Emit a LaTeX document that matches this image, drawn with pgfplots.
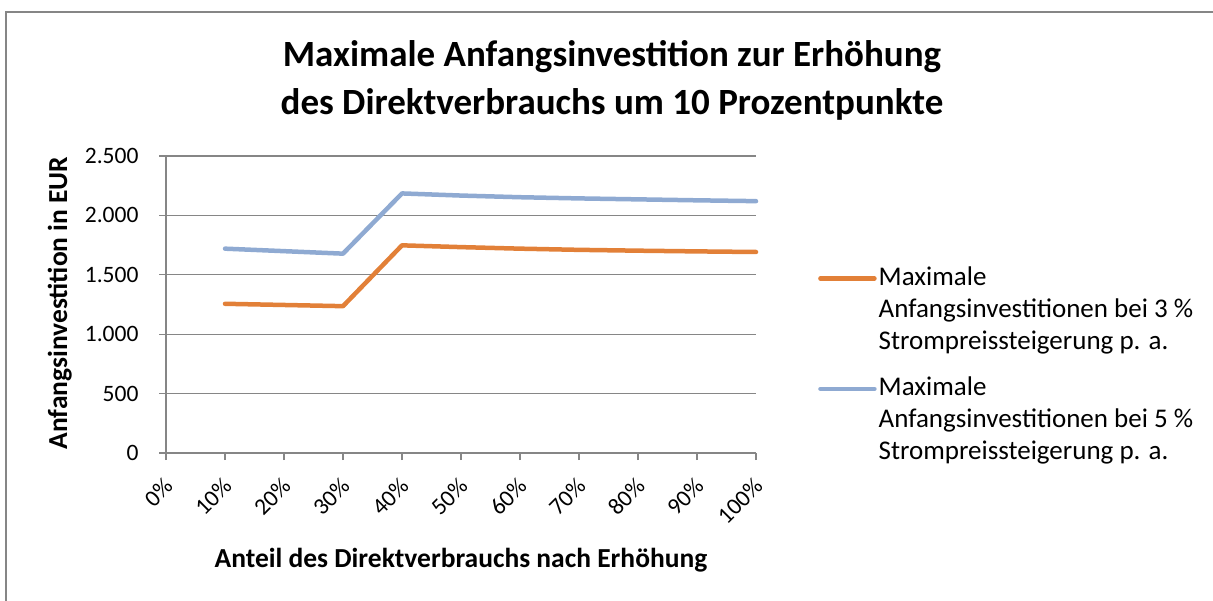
\documentclass[border=0pt]{standalone}
\usepackage{pgfplots}
\pgfplotsset{compat=1.18}
\usepackage{fontspec}
\setmainfont{Carlito}
\definecolor{sorange}{RGB}{226,128,56}
\definecolor{sblue}{RGB}{143,170,210}
\definecolor{gridgray}{RGB}{134,134,134}
\definecolor{bordergray}{RGB}{134,134,134}
\begin{document}
\begin{tikzpicture}
\useasboundingbox (0bp,0bp) rectangle (1213bp,601bp);
\draw[bordergray, line width=1.5bp] (6bp,-20bp) -- (6bp,589bp) -- (1230bp,589bp);
\node[font=\fontsize{37bp}{48bp}\selectfont\bfseries, align=center] at (612bp,521bp)
  {Maximale Anfangsinvestition zur Erhöhung\\des Direktverbrauchs um 10 Prozentpunkte};
\begin{axis}[
  at={(166bp,148bp)}, anchor=south west,
  scale only axis, width=590bp, height=297bp,
  xmin=0, xmax=100, ymin=0, ymax=2500,
  axis lines=left, axis line style={-, gridgray, line width=1.2bp},
  xtick={0,10,...,100},
  xticklabels={0\%,10\%,20\%,30\%,40\%,50\%,60\%,70\%,80\%,90\%,100\%},
  ytick={0,500,...,2500},
  yticklabels={0,500,{1.000},{1.500},{2.000},{2.500}},
  tick align=outside, major tick length=7bp,
  tick style={gridgray, line width=1.2bp},
  ymajorgrids, grid style={gridgray, line width=1.2bp},
  /pgf/number format/assume math mode=true,
  tick label style={font=\fontsize{23.5bp}{28bp}\selectfont},
  yticklabel style={xshift=-17bp},
  xticklabel style={xshift=5bp, yshift=-20bp, rotate=45, anchor=east},
  xlabel={Anteil des Direktverbrauchs nach Erhöhung},
  ylabel={Anfangsinvestition in EUR},
  label style={font=\fontsize{27.5bp}{32bp}\selectfont\bfseries},
  xlabel style={at={(axis description cs:0.5,-0.36)}, anchor=center},
  ylabel style={at={(axis description cs:-0.18,0.505)}, anchor=center},
  clip=false,
  legend style={at={(axis description cs:1.10,0.642)}, anchor=north west, draw=none, fill=none,
    font=\fontsize{27bp}{32bp}\selectfont,
    cells={anchor=north west, align=left}, row sep=22bp},
  legend image code/.code={\draw[#1, line width=4.5bp, line cap=round] (0bp,-14bp) -- (54bp,-14bp);},
]
\addplot[sorange, line width=4.5bp, line cap=round, line join=round] coordinates {
 (10,1256) (20,1246) (30,1236) (40,1748) (50,1733) (60,1720) (70,1710) (80,1703) (90,1697) (100,1692)};
\addlegendentry{Maximale\\Anfangsinvestitionen bei 3 \%\\Strompreissteigerung p. a.}
\addplot[sblue, line width=4.5bp, line cap=round, line join=round] coordinates {
 (10,1720) (20,1699) (30,1678) (40,2185) (50,2167) (60,2153) (70,2143) (80,2135) (90,2127) (100,2120)};
\addlegendentry{Maximale\\Anfangsinvestitionen bei 5 \%\\Strompreissteigerung p. a.}
\end{axis}
\end{tikzpicture}
\end{document}
